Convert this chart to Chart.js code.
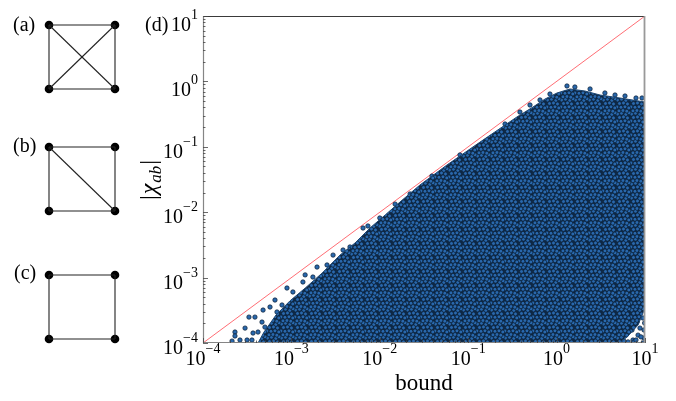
<!DOCTYPE html>
<html><head><meta charset="utf-8">
<script src="https://cdn.jsdelivr.net/npm/chart.js@4.4.0/dist/chart.umd.min.js"></script>
<style>
html,body{margin:0;padding:0;background:#fff;}
#wrap{position:relative;width:676px;height:401px;overflow:hidden;background:#fff;}
canvas{position:absolute;}
</style></head><body>
<div id="wrap">
<canvas id="main" width="676" height="401" style="left:0;top:0"></canvas>
<canvas id="ga" width="82" height="80" style="left:41px;top:17px"></canvas>
<canvas id="gb" width="82" height="80" style="left:41px;top:139px"></canvas>
<canvas id="gc" width="82" height="80" style="left:41px;top:267px"></canvas>
</div>
<script>
// ---------------- data ----------------
// outline of the dense point cloud (bound, |chi_ab|)
const cloudX = [4.19e-4, 4.9e-4, 6.7e-4, 9.6e-4, 1.43e-3, 2.22e-3, 3.55e-3, 5.24e-3, 7.74e-3, 1.15e-2, 1.69e-2, 2.85e-2, 5.75e-2, 0.136, 0.356, 0.541, 0.740, 1.01, 1.42, 2.09, 3.10, 5.21, 10, 10, 8.34, 6.43, 5.21];
const cloudY = [1e-4, 1.47e-4, 2.68e-4, 4.39e-4, 6.9e-4, 1.17e-3, 2.21e-3, 3.38e-3, 5.73e-3, 9.06e-3, 1.43e-2, 2.61e-2, 5.27e-2, 0.118, 0.286, 0.406, 0.538, 0.665, 0.766, 0.713, 0.619, 0.557, 0.484, 3.43e-4, 1.88e-4, 1.28e-4, 1e-4];
// individual points visible outside the dense cloud
const pointX = [2.13e-4, 2.30e-4, 2.30e-4, 2.62e-4, 3.15e-4, 3.31e-4, 3.58e-4, 3.68e-4, 3.87e-4, 4.19e-4, 4.65e-4, 4.78e-4, 5.02e-4, 5.73e-4, 5.73e-4, 6.52e-4, 6.87e-4, 7.83e-4, 8.91e-4, 1.04e-3, 1.35e-3, 1.43e-3, 1.75e-3, 1.95e-3, 2.53e-3, 2.96e-3, 3.84e-3, 4.60e-3, 2.99e-4,
  6.46e-3, 7.34e-3, 1.00e-2, 1.49e-2, 2.20e-2, 3.89e-2, 8.07e-2, 0.261, 0.385,
  0.500, 0.649, 0.841, 1.31, 1.61, 2.39, 3.52, 4.58, 5.94, 7.91, 9.25,
  4.58, 4.94, 5.50, 6.10, 6.76, 7.31, 7.91, 8.77, 9.48, 9.75, 6.43, 8.34, 5.21, 9.01, 9.75, 7.13, 5.78, 4.24, 4.70, 8.11,
  7.50, 7.91, 9.01, 9.75, 9.48, 9.90];
const pointY = [1.07e-4, 1.47e-4, 1.28e-4, 1.11e-4, 1.11e-4, 2.49e-4, 1.11e-4, 1.42e-4, 2.49e-4, 1.47e-4, 2.09e-4, 3.19e-4, 1.75e-4, 3.55e-4, 1.47e-4, 4.54e-4, 2.98e-4, 3.81e-4, 6.93e-4, 6.03e-4, 8.57e-4, 1.10e-3, 1.02e-3, 1.45e-3, 1.56e-3, 2.21e-3, 2.64e-3, 2.94e-3, 1.69e-4,
  5.73e-3, 6.15e-3, 8.15e-3, 1.33e-2, 1.90e-2, 3.57e-2, 7.50e-2, 0.223, 0.340,
  0.436, 0.520, 0.641, 0.851, 0.821, 0.766, 0.665, 0.619, 0.598, 0.557, 0.557,
  1.58e-4, 1.19e-4, 1.88e-4, 1.32e-4, 2.24e-4, 1.11e-4, 2.98e-4, 1.69e-4, 2.41e-4, 1.19e-4, 1.04e-4, 1.32e-4, 2.41e-4, 3.81e-4, 5.42e-4, 1.58e-4, 1.07e-4, 1.19e-4, 2.09e-4, 2.09e-4,
  1.04e-4, 1.11e-4, 1.24e-4, 1.58e-4, 1.0e-4, 2.02e-4];
// y = x reference line
const diagX = [1e-4, 10];
const diagY = [1e-4, 10];
// tick labels (powers of ten)
const xTickPowers = [-4, -3, -2, -1, 0, 1];
const yTickPowers = [-4, -3, -2, -1, 0, 1];
const xTitle = 'bound';
const panelLabels = ['(a)', '(b)', '(c)', '(d)'];
// graphs: nodes 0 TL, 1 TR, 2 BL, 3 BR
const nodeX = [0, 1, 0, 1];
const nodeY = [1, 1, 0, 0];
const edgesA = [[0,1],[0,2],[1,3],[2,3],[0,3],[1,2]];
const edgesB = [[0,1],[0,2],[1,3],[2,3],[0,3]];
const edgesC = [[0,1],[0,2],[1,3],[2,3]];

// ---------------- drawing ----------------
const SERIF = '"Liberation Serif","Times New Roman",Times,serif';
const mainCanvas = document.getElementById('main');
const mctx = mainCanvas.getContext('2d');

function makePattern(ctx) {
  const T = 14;
  const c = document.createElement('canvas');
  c.width = T; c.height = T;
  const g = c.getContext('2d');
  g.fillStyle = '#0f2a48'; g.fillRect(0, 0, T, T);
  const dots = [[1.5,2],[5.5,1.2],[9.8,2.5],[13,0.8],[3.5,5.5],[7.5,5],[11.5,6],[1,9],[5,9.3],[9,8.8],[12.8,10],[3,12.8],[7,12.5],[10.8,13.2]];
  g.lineWidth = 0.6; g.strokeStyle = '#0a1b2e'; g.fillStyle = '#2968ad';
  for (const [x, y] of dots) {
    for (const ox of [-T, 0, T]) for (const oy of [-T, 0, T]) {
      g.beginPath(); g.arc(x + ox, y + oy, 1.9, 0, Math.PI * 2); g.fill(); g.stroke();
    }
  }
  return ctx.createPattern(c, 'repeat');
}

function drawPow(ctx, exp, x, y, align) {
  const base = '10', sup = (exp < 0 ? '\u2212' : '') + Math.abs(exp);
  ctx.font = '20px ' + SERIF; const wb = ctx.measureText(base).width;
  ctx.font = '14px ' + SERIF; const ws = ctx.measureText(sup).width;
  const total = wb + ws;
  const x0 = align === 'center' ? x - total / 2 : x - total;
  ctx.textAlign = 'left'; ctx.textBaseline = 'alphabetic'; ctx.fillStyle = '#000';
  ctx.font = '20px ' + SERIF; ctx.fillText(base, x0, y);
  ctx.font = '14px ' + SERIF; ctx.fillText(sup, x0 + wb, y - 12);
}

const decor = {
  id: 'decor',
  afterDraw(chart) {
    const ctx = chart.ctx, a = chart.chartArea, xs = chart.scales.x, ys = chart.scales.y;
    ctx.save();
    // spines
    ctx.lineWidth = 1.2;
    ctx.strokeStyle = '#3a3a3a';
    ctx.beginPath(); ctx.moveTo(a.left, a.top + 0.5); ctx.lineTo(a.right, a.top + 0.5); ctx.stroke();
    ctx.strokeStyle = '#858585';
    ctx.beginPath(); ctx.moveTo(a.left + 0.5, a.top); ctx.lineTo(a.left + 0.5, a.bottom); ctx.stroke();
    ctx.beginPath(); ctx.moveTo(a.left, a.bottom - 0.5); ctx.lineTo(a.right, a.bottom - 0.5); ctx.stroke();
    ctx.lineWidth = 1.8; ctx.strokeStyle = '#999';
    ctx.beginPath(); ctx.moveTo(a.right - 0.5, a.top); ctx.lineTo(a.right - 0.5, a.bottom); ctx.stroke();
    // ticks (inward)
    ctx.strokeStyle = '#444'; ctx.lineWidth = 0.8;
    for (let k = -4; k <= 1; k++) {
      for (let m = 1; m <= 9; m++) {
        const v = m * Math.pow(10, k);
        if (v > 10.0001) break;
        const len = m === 1 ? 5 : 2.5;
        const px = Math.round(xs.getPixelForValue(v)) + 0.5;
        ctx.beginPath(); ctx.moveTo(px, a.bottom); ctx.lineTo(px, a.bottom - len); ctx.stroke();
        const py = Math.round(ys.getPixelForValue(v)) + 0.5;
        ctx.beginPath(); ctx.moveTo(a.left, py); ctx.lineTo(a.left + len, py); ctx.stroke();
      }
    }
    // tick labels
    for (const p of xTickPowers) drawPow(ctx, p, xs.getPixelForValue(Math.pow(10, p)), a.bottom + 22, 'center');
    for (const p of yTickPowers) drawPow(ctx, p, a.left - 5, ys.getPixelForValue(Math.pow(10, p)) + (p < 0 ? 11 : 15), 'right');
    // x title
    ctx.fillStyle = '#000'; ctx.textAlign = 'center'; ctx.textBaseline = 'alphabetic';
    ctx.font = '23px ' + SERIF;
    ctx.fillText(xTitle, (a.left + a.right) / 2, 390);
    // y title |chi_ab|
    ctx.save();
    ctx.translate(156, (a.top + a.bottom) / 2);
    ctx.rotate(-Math.PI / 2);
    const segs = [['|', '24px ' + SERIF, 0], ['\u03c7', 'italic 24px ' + SERIF, 0], ['ab', 'italic 17px ' + SERIF, 5], ['|', '24px ' + SERIF, 0]];
    let tot = 0;
    for (const s of segs) { ctx.font = s[1]; tot += ctx.measureText(s[0]).width + 1; }
    let cx = -tot / 2;
    ctx.textAlign = 'left';
    for (const s of segs) { ctx.font = s[1]; ctx.fillText(s[0], cx, s[2]); cx += ctx.measureText(s[0]).width + 1; }
    ctx.restore();
    // panel labels
    ctx.font = '20px ' + SERIF; ctx.textAlign = 'left';
    ctx.fillText(panelLabels[0], 13, 31);
    ctx.fillText(panelLabels[1], 13, 152);
    ctx.fillText(panelLabels[2], 14, 279);
    ctx.fillText(panelLabels[3], 145, 31);
    ctx.restore();
  }
};

new Chart(mainCanvas, {
  type: 'scatter',
  data: {
    datasets: [
      { data: cloudX.map((x, i) => ({ x, y: cloudY[i] })), showLine: true, fill: 'shape',
        backgroundColor: makePattern(mctx), borderColor: '#1b4470', borderWidth: 1,
        pointRadius: 0, tension: 0, clip: 0 },
      { data: pointX.map((x, i) => ({ x, y: pointY[i] })), showLine: false,
        backgroundColor: '#2968ad', borderColor: '#0b1d30', borderWidth: 0.7,
        pointRadius: 2.2, clip: 0 },
      { data: diagX.map((x, i) => ({ x, y: diagY[i] })), showLine: true, fill: false,
        borderColor: 'rgba(255,60,70,0.75)', borderWidth: 1, pointRadius: 0, clip: 0 }
    ]
  },
  options: {
    responsive: false, animation: false, events: [],
    layout: { autoPadding: false, padding: { left: 203, top: 16, right: 31, bottom: 58 } },
    plugins: { legend: { display: false }, tooltip: { enabled: false } },
    scales: {
      x: { type: 'logarithmic', min: 1e-4, max: 10, display: false },
      y: { type: 'logarithmic', min: 1e-4, max: 10, display: false }
    }
  },
  plugins: [decor]
});

function graphChart(id, edges) {
  const ds = edges.map(([i, j]) => ({
    data: [{ x: nodeX[i], y: nodeY[i] }, { x: nodeX[j], y: nodeY[j] }],
    showLine: true, borderColor: '#222', borderWidth: 1.1, pointRadius: 0, fill: false
  }));
  ds.push({ data: nodeX.map((x, i) => ({ x, y: nodeY[i] })), showLine: false,
    pointRadius: 4.3, backgroundColor: '#000', borderColor: '#000', borderWidth: 0 });
  new Chart(document.getElementById(id), {
    type: 'scatter', data: { datasets: ds },
    options: {
      responsive: false, animation: false, events: [], layout: { autoPadding: false, padding: 0 },
      plugins: { legend: { display: false }, tooltip: { enabled: false } },
      scales: {
        x: { type: 'linear', min: -0.1212, max: 1.1212, display: false },
        y: { type: 'linear', min: -0.125, max: 1.125, display: false }
      }
    }
  });
}
graphChart('ga', edgesA);
graphChart('gb', edgesB);
graphChart('gc', edgesC);
</script>
</body></html>
